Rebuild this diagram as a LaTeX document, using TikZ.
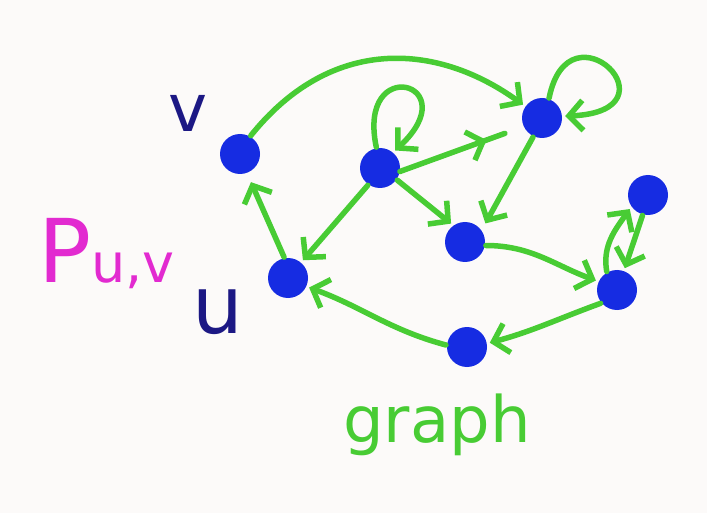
\documentclass[tikz,border=0pt]{standalone}
\usepackage{fontspec}
\setmainfont{DejaVu Sans}
\usetikzlibrary{arrows.meta,decorations.markings}
\definecolor{inkgreen}{RGB}{72,204,52}
\definecolor{inkblue}{RGB}{22,44,226}
\definecolor{inknavy}{RGB}{28,24,132}
\definecolor{inkpink}{RGB}{226,42,208}
\definecolor{paper}{RGB}{252,250,249}

\begin{document}
\begin{tikzpicture}[
    x=1pt, y=-1pt,
    vdot/.style={circle, fill=inkblue, inner sep=0pt, minimum size=40pt},
    edge/.style={draw=inkgreen, line width=5.5pt, line cap=round, line join=round,
      -{Straight Barb[length=14pt,width=30pt]}, shorten >=3pt, shorten <=1pt},
    midedge/.style={draw=inkgreen, line width=5.5pt, line cap=round, line join=round,
      postaction={decorate},
      decoration={markings, mark=at position 0.7 with {\arrow{Straight Barb[length=14pt,width=30pt]}}}},
    lbl/.style={inner sep=0pt}
]
  \fill[paper] (0,0) rectangle (707,513);
  \useasboundingbox (0,0) rectangle (707,513);

  % vertices
  \node[vdot] (v) at (240,154) {};
  \node[vdot] (a) at (380,168) {};
  \node[vdot] (b) at (542,118) {};
  \node[vdot] (c) at (465,242) {};
  \node[vdot] (u) at (288,278) {};
  \node[vdot] (d) at (617,290) {};
  \node[vdot] (e) at (648,195) {};
  \node[vdot] (f) at (467,347) {};

  % edges
  \draw[edge] (v.60) .. controls +(80,-100) and +(-90,-65) .. (b.145);
  \draw[edge] (a.100) .. controls +(-20,-95) and +(75,-70) .. (a.50);
  \draw[edge] (b.70) .. controls +(20,-100) and +(120,-5) .. (b.5);
  \draw[midedge, shorten >=20pt] (a.-10) -- (b.205);
  \draw[edge] (a.-35) -- (c.125);
  \draw[edge] (a.235) -- (u.50);
  \draw[edge, shorten >=10pt] (u.100) -- (v.-70);
  \draw[edge, shorten >=8pt] (b.245) -- (c.35);
  \draw[edge] (c.-10) to[out=0,in=160] (d.155);
  \draw[edge] (d.120) to[out=100,in=235] (e.215);
  \draw[edge] (e.255) -- (d.70);
  \draw[edge] (d.220) to[out=200,in=15] (f.10);
  \draw[edge] (f.175) to[out=165,in=-20] (u.-25);

  % labels
  \node[lbl, anchor=base, text=inknavy, font=\fontsize{66}{66}\selectfont] (vlabel) at (188,132) {v};
  \node[lbl, anchor=base, text=inknavy, font=\fontsize{80}{80}\selectfont] (ulabel) at (218,333) {u};
  \node[lbl, anchor=base west, text=inkpink, font=\fontsize{88}{88}\selectfont] (plabel) at (38,283)
    {P{\fontsize{54}{54}\selectfont u,v}};
  \node[lbl, anchor=base west, text=inkgreen, font=\fontsize{64}{64}\selectfont] (glabel) at (343,442) {graph};
\end{tikzpicture}
\end{document}
